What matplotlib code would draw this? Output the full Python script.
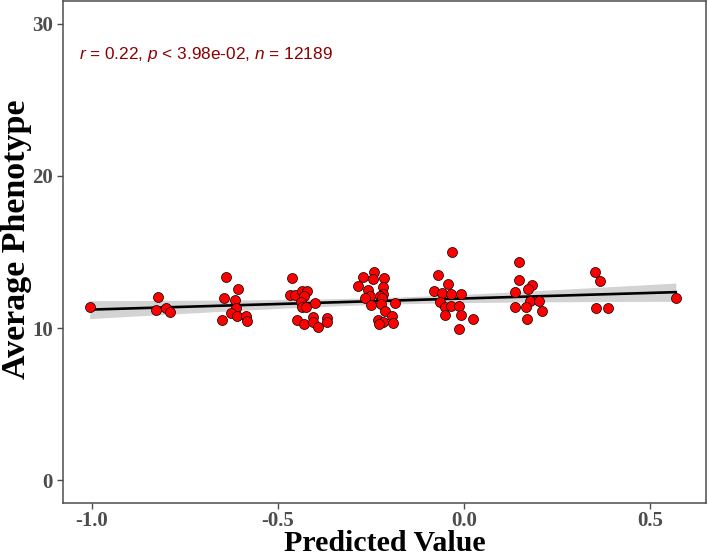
import numpy as np
import matplotlib
matplotlib.use('Agg')
import matplotlib.pyplot as plt

# values
pred = [-1.006, -0.823, -0.828, -0.802, -0.791,
        -0.639, -0.607, -0.645, -0.617, -0.613, -0.627, -0.610, -0.586, -0.583, -0.651,
        -0.462, -0.467, -0.455, -0.437, -0.423, -0.430, -0.438, -0.401, -0.436, -0.426,
        -0.448, -0.431, -0.407, -0.405, -0.394, -0.369, -0.370,
        -0.242, -0.273, -0.246, -0.215, -0.285, -0.217, -0.258, -0.219, -0.252, -0.266,
        -0.227, -0.222, -0.186, -0.251, -0.224, -0.213, -0.194, -0.232, -0.218, -0.229, -0.191,
        -0.070, -0.081, -0.060, -0.066, -0.051, -0.051,
        -0.032, -0.044, -0.036, -0.010, -0.036, -0.015, -0.008, 0.023, -0.014,
        0.146, 0.148, 0.182, 0.171, 0.135, 0.176, 0.201, 0.137, 0.167, 0.208, 0.169,
        0.350, 0.364, 0.353, 0.385, 0.568]
pheno = [11.37, 12.07, 11.18, 11.31, 11.07,
         13.34, 12.55, 11.98, 11.87, 11.31, 11.00, 10.78, 10.78, 10.48, 10.56,
         13.29, 12.20, 12.20, 12.42, 12.42, 12.12, 11.74, 11.64, 11.41, 11.37,
         10.50, 10.24, 10.72, 10.43, 10.06, 10.69, 10.41,
         13.67, 13.36, 13.21, 13.27, 12.75, 12.72, 12.51, 12.25, 12.12, 11.96,
         12.12, 11.96, 11.64, 11.51, 11.59, 11.15, 10.76, 10.54, 10.37, 10.28, 10.32,
         13.51, 12.44, 12.31, 11.74, 11.41, 10.87,
         15.00, 12.88, 12.25, 12.25, 11.46, 11.46, 10.89, 10.61, 9.91,
         14.36, 13.14, 12.82, 12.59, 12.38, 11.81, 11.81, 11.37, 11.39, 11.15, 10.61,
         13.67, 13.10, 11.33, 11.33, 12.00]
label_text = r'$\it{r}$ = 0.22, $\it{p}$ < 3.98e-02, $\it{n}$ = 12189'
xticks = [-1.0, -0.5, 0.0, 0.5]
xticklabels = ['-1.0', '-0.5', '0.0', '0.5']
yticks = [0, 10, 20, 30]

x = np.array(pred)
y = np.array(pheno)

# linear fit with 95% confidence band (like geom_smooth(method='lm'))
slope, intercept = np.polyfit(x, y, 1)
xs = np.linspace(x.min(), x.max(), 100)
ys = intercept + slope * xs
resid = y - (intercept + slope * x)
n = len(x)
s = np.sqrt(np.sum(resid ** 2) / (n - 2))
se = s * np.sqrt(1.0 / n + (xs - x.mean()) ** 2 / np.sum((x - x.mean()) ** 2))
ci = 1.99 * se

plt.rcParams['mathtext.fontset'] = 'custom'
plt.rcParams['mathtext.it'] = 'Liberation Sans:italic'
plt.rcParams['mathtext.rm'] = 'Liberation Sans'

W, H = 708, 558
fig = plt.figure(figsize=(W / 100, H / 100), dpi=100)
ax = fig.add_axes([0.0886, 0.0986, 0.9082, 0.8996])

ax.fill_between(xs, ys - ci, ys + ci, color='#C8C8C8', alpha=0.8, linewidth=0, zorder=1)
ax.plot(xs, ys, color='black', linewidth=1.9, zorder=2)
ax.scatter(x, y, s=52, color='#FF0000', edgecolors='black', linewidths=0.5, zorder=3)

ax.text(-1.036, 28.0, label_text, color='#8B0000', fontsize=12.4,
        family='Liberation Sans', va='center', ha='left')

ax.set_xlim(-1.0785, 0.6485)
ax.set_ylim(-1.5, 31.5)
ax.set_xticks(xticks)
ax.set_xticklabels(xticklabels)
ax.set_yticks(yticks)

for sp in ax.spines.values():
    sp.set_color('#4D4D4D')
    sp.set_linewidth(1.1)
ax.tick_params(colors='#4D4D4D', length=4, width=1.0, labelsize=15)
ax.tick_params(axis='x', pad=2)
ax.tick_params(axis='y', pad=3)
for lab in ax.get_xticklabels() + ax.get_yticklabels():
    lab.set_family('Liberation Serif')
    lab.set_fontweight('bold')

ax.set_xlabel('Predicted Value', family='Liberation Serif', fontweight='bold', fontsize=21.5)
ax.set_ylabel('Average Phenotype', family='Liberation Serif', fontweight='bold', fontsize=24.5)
# place the titles by their baselines, in figure coordinates
ax.xaxis.label.set_va('baseline')
ax.xaxis.set_label_coords(385 / W, 7 / H, transform=fig.transFigure)
ax.yaxis.label.set_va('baseline')
ax.yaxis.label.set_rotation_mode('anchor')
ax.yaxis.set_label_coords(25 / W, 1 - 239 / H, transform=fig.transFigure)

fig.savefig('out.png', dpi=100)
